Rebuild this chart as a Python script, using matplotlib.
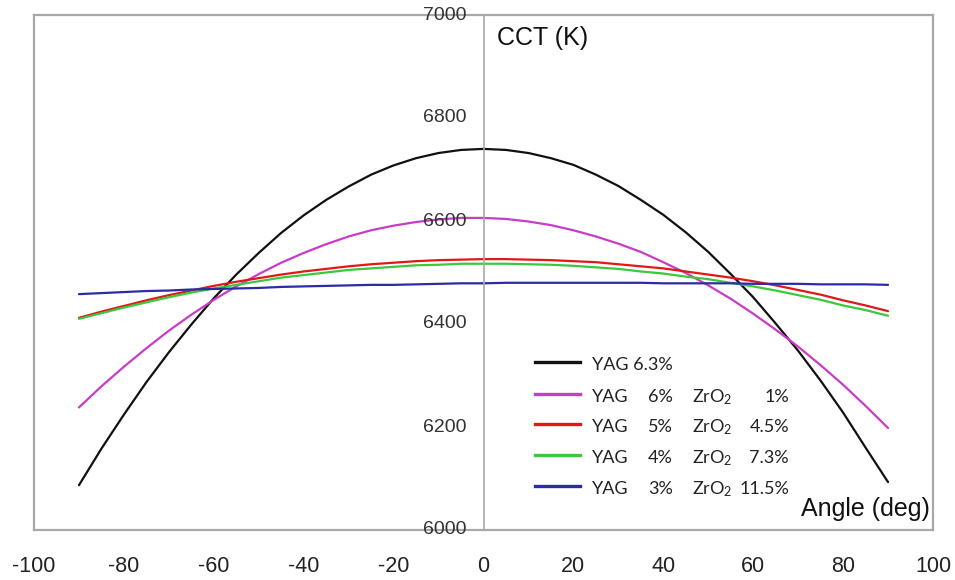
import matplotlib
matplotlib.use("Agg")
import matplotlib.pyplot as plt
from matplotlib.lines import Line2D

# ---- data ----
angles = [-90, -85, -80, -75, -70, -65, -60, -55, -50, -45, -40, -35, -30, -25, -20, -15, -10, -5,
          0, 5, 10, 15, 20, 25, 30, 35, 40, 45, 50, 55, 60, 65, 70, 75, 80, 85, 90]
yag63 = [6087, 6158, 6224, 6287, 6345, 6399, 6450, 6496, 6538, 6577, 6611, 6641, 6667, 6690, 6708, 6722, 6732, 6738,
         6740, 6738, 6732, 6722, 6709, 6690, 6668, 6641, 6612, 6578, 6540, 6497, 6452, 6401, 6348, 6290, 6228, 6160, 6093]
yag6_zr1 = [6238, 6279, 6317, 6353, 6387, 6418, 6447, 6473, 6497, 6519, 6538, 6555, 6570, 6582, 6591, 6598, 6603, 6606,
            6606, 6604, 6599, 6592, 6582, 6570, 6556, 6540, 6520, 6499, 6475, 6449, 6420, 6389, 6356, 6320, 6282, 6241, 6198]
yag5_zr45 = [6412, 6424, 6435, 6446, 6456, 6465, 6474, 6482, 6489, 6496, 6502, 6507, 6512, 6516, 6519, 6522, 6524, 6525,
             6526, 6526, 6525, 6524, 6522, 6520, 6516, 6512, 6508, 6502, 6496, 6490, 6483, 6475, 6466, 6457, 6446, 6436, 6425]
yag4_zr73 = [6410, 6421, 6432, 6442, 6452, 6461, 6469, 6476, 6483, 6490, 6495, 6500, 6505, 6508, 6511, 6514, 6515, 6517,
             6517, 6517, 6516, 6515, 6513, 6510, 6507, 6502, 6498, 6492, 6487, 6480, 6473, 6465, 6456, 6447, 6436, 6427, 6416]
yag3_zr115 = [6458, 6460, 6462, 6464, 6465, 6467, 6468, 6469, 6470, 6472, 6473, 6474, 6475, 6476, 6476, 6477, 6478, 6479,
              6479, 6480, 6480, 6480, 6480, 6480, 6480, 6480, 6479, 6479, 6479, 6479, 6478, 6478, 6478, 6477, 6477, 6477, 6476]

series = [yag63, yag6_zr1, yag5_zr45, yag4_zr73, yag3_zr115]
colors = ["#111111", "#c93cc9", "#e01818", "#3cc83c", "#2b2ba6"]
legend_rows = [
    ["YAG 6.3%"],
    ["YAG", "6%", "ZrO$_2$", "1%"],
    ["YAG", "5%", "ZrO$_2$", "4.5%"],
    ["YAG", "4%", "ZrO$_2$", "7.3%"],
    ["YAG", "3%", "ZrO$_2$", "11.5%"],
]
xticks = [-100, -80, -60, -40, -20, 0, 20, 40, 60, 80, 100]
yticks = [6000, 6200, 6400, 6600, 6800, 7000]

plt.rcParams['mathtext.fontset'] = 'custom'
plt.rcParams['mathtext.rm'] = 'Lato'
plt.rcParams['mathtext.it'] = 'Lato'

fig = plt.figure(figsize=(9.55, 5.8), dpi=100)
ax = fig.add_axes([34/955, 50/580, 899/955, 515/580])
ax.set_xlim(-100, 100)
ax.set_ylim(6000, 7000)

for s, c in zip(series, colors):
    ax.plot(angles, s, color=c, lw=1.6, solid_capstyle='round', solid_joinstyle='round')

for sp in ax.spines.values():
    sp.set_color("#a8a8a8")
    sp.set_linewidth(1.6)
ax.axvline(0, color="#a8a8a8", lw=1.2)

ax.set_xticks(xticks)
ax.set_xticklabels([str(v) for v in xticks], fontsize=15.5, family="Liberation Sans", color="#222222")
ax.tick_params(axis='x', length=0, pad=19)
ax.set_yticks([])

for v in yticks:
    ax.text(-3.8, v, str(v), ha='right', va='center', fontsize=14,
            family="Liberation Sans", color="#333333")

ax.text(3.0, 6955, "CCT (K)", ha='left', va='center', fontsize=18,
        family="Liberation Sans", color="#111111")
ax.text(99.2, 6040, "Angle (deg)", ha='right', va='center', fontsize=18,
        family="Liberation Sans", color="#111111")

# legend (manual)
trans = ax.transAxes
def ax_x(px):
    return (px - 34) / 899
def ax_y(py):
    return (530 - py) / 515

row_y = [362, 394, 424, 455, 486]
for c, row, py in zip(colors, legend_rows, row_y):
    ax.add_line(Line2D([ax_x(535), ax_x(580)], [ax_y(py), ax_y(py)], transform=trans,
                       color=c, lw=2.4))
    yy = ax_y(py + 3)
    fp = dict(fontsize=13, family="Lato", color="#222222", va='center', transform=trans)
    if len(row) == 1:
        ax.text(ax_x(592), yy, row[0], ha='left', **fp)
    else:
        ax.text(ax_x(592), yy, row[0], ha='left', **fp)
        ax.text(ax_x(673), yy, row[1], ha='right', **fp)
        ax.text(ax_x(692), yy, row[2], ha='left', **fp)
        ax.text(ax_x(789), yy, row[3], ha='right', **fp)

fig.savefig("out.png", dpi=100)
